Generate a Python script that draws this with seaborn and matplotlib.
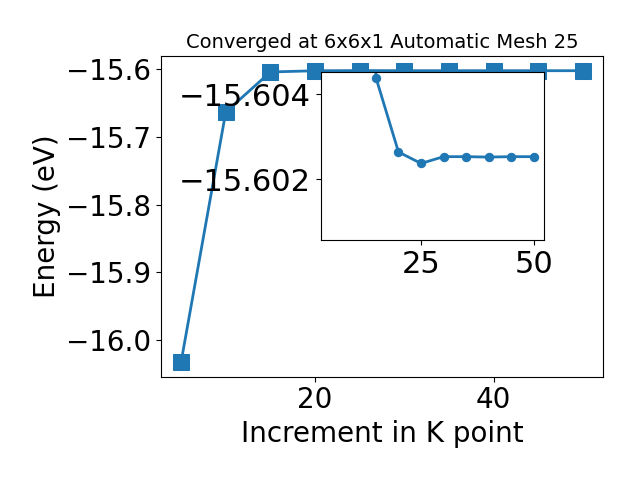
import matplotlib
matplotlib.use("Agg")
import matplotlib.pyplot as plt
import seaborn as sns
import pandas as pd

# k-point increments and total energies (eV)
kpoints = [5, 10, 15, 20, 25, 30, 35, 40, 45, 50]
energy = [-16.032, -15.6635, -15.6044, -15.60264, -15.60237,
          -15.60253, -15.60253, -15.60252, -15.60253, -15.60253]
inset_ticks_x = [25, 50]
inset_ticks_y = [-15.604, -15.602]

df = pd.DataFrame({'k': kpoints, 'E': energy})
color = '#1f77b4'

fig = plt.figure(figsize=(6.4, 4.8), dpi=100)
ax = fig.add_axes([0.2516, 0.2156, 0.6906, 0.6677])
sns.lineplot(data=df, x='k', y='E', marker='s', markersize=11, linewidth=2,
             color=color, mec=color, ax=ax)
ax.set_xlabel('Increment in K point', fontsize=20)
ax.set_ylabel('Energy (eV)', fontsize=20)
ax.set_title('Converged at 6x6x1 Automatic Mesh 25', fontsize=14)
ax.set_xticks([20, 40])
ax.tick_params(labelsize=20)

# zoomed inset
axins = fig.add_axes([0.501, 0.5, 0.349, 0.349])
sns.lineplot(data=df, x='k', y='E', marker='o', markersize=6, linewidth=2,
             color=color, mec=color, ax=axins)
axins.set_ylim(-15.60056, -15.60452)
axins.set_xticks(inset_ticks_x)
axins.set_yticks(inset_ticks_y)
axins.set_yticklabels(['\u221215.604', '\u221215.602'])
axins.set_xlabel('')
axins.set_ylabel('')
axins.tick_params(labelsize=22)

fig.savefig('out.png', dpi=100)
